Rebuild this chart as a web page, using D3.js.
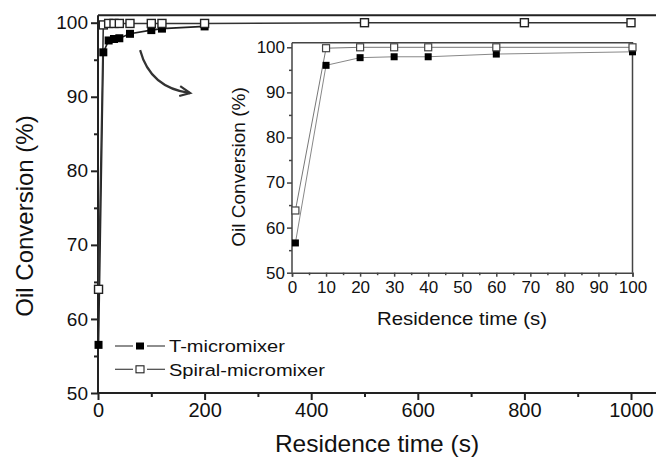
<!DOCTYPE html>
<html>
<head>
<meta charset="utf-8">
<script src="https://cdn.jsdelivr.net/npm/d3@7"></script>
<style>
  body { margin: 0; background: #fff; }
  svg { display: block; }
  svg text { font-family: "Liberation Sans", Arial, sans-serif; }
</style>
</head>
<body>
<svg id="chart" width="656" height="459"></svg>
<script>
// residence time (s) and oil conversion (%)
const tMain = [1, 10, 20, 30, 40, 60, 100, 120, 200]
const tMicroMain = [56.5, 96, 97.6, 97.8, 97.9, 98.5, 99.0, 99.2, 99.5]
const tSpiralMain = [1, 10, 20, 30, 40, 60, 100, 120, 200, 500, 800, 1000]
const spiralMain = [64, 99.7, 99.9, 99.9, 99.9, 99.9, 99.9, 99.9, 99.9, 100, 100, 100]

const tInset = [1, 10, 20, 30, 40, 60, 100]
const tMicroInset = [56.6, 96, 97.7, 97.9, 97.9, 98.5, 99.0]
const spiralInset = [63.8, 99.8, 100, 100, 100, 100, 100]

const mainXTicks = [0, 200, 400, 600, 800, 1000]
const mainYTicks = [50, 60, 70, 80, 90, 100]
const insetXTicks = [0, 10, 20, 30, 40, 50, 60, 70, 80, 90, 100]
const insetYTicks = [50, 60, 70, 80, 90, 100]

const seriesNames = ["T-micromixer", "Spiral-micromixer"]

const svg = d3.select("#chart")
const FONT = "Liberation Sans, Arial, sans-serif"

// ---- main plot
const x = d3.scaleLinear().domain([0, 1000]).range([98, 631])
const y = d3.scaleLinear().domain([50, 100]).range([393, 22.7])

const main = svg.append("g")

// frame top runs off the image
main.append("path")
  .attr("d", `M${x(0)},${y(101)}H${x(1060)}`)
  .attr("stroke", "#222").attr("stroke-width", 2).attr("fill", "none")

const xAxis = main.append("g")
  .attr("transform", `translate(0,${y(50)})`)
  .call(d3.axisBottom(x).tickValues(mainXTicks).tickSize(7).tickPadding(3).tickFormat(d3.format("d")))
main.append("g")
  .attr("transform", `translate(0,${y(50)})`)
  .call(d3.axisBottom(x).tickValues(d3.range(100, 1001, 200)).tickSize(4).tickFormat(""))
  .call(g => g.select(".domain").remove())
xAxis.select(".domain").attr("d", `M${x(0)},0H${x(1060)}`)

const yAxis = main.append("g")
  .attr("transform", `translate(${x(0)},0)`)
  .call(d3.axisLeft(y).tickValues(mainYTicks).tickSize(7).tickPadding(3))
  .call(g => g.select(".domain").attr("d", `M0,${y(50)}V${y(101)}`))
main.append("g")
  .attr("transform", `translate(${x(0)},0)`)
  .call(d3.axisLeft(y).tickValues(d3.range(55, 100, 10)).tickSize(4).tickFormat(""))
  .call(g => g.select(".domain").remove())

main.selectAll("g").attr("font-family", FONT)
main.selectAll(".domain, .tick line").attr("stroke", "#222").attr("stroke-width", 2)
main.selectAll(".tick text").attr("fill", "#111")
xAxis.selectAll(".tick text").attr("font-size", 20)
yAxis.selectAll(".tick text").attr("font-size", 19)

main.append("text")
  .attr("x", 377).attr("y", 452)
  .attr("text-anchor", "middle").attr("font-size", 24.5).attr("fill", "#111")
  .text("Residence time (s)")
main.append("text")
  .attr("transform", `translate(33,216) rotate(-90)`)
  .attr("text-anchor", "middle").attr("font-size", 24).attr("fill", "#111")
  .text("Oil Conversion (%)")

const lineMain = d3.line().x(d => x(d[0])).y(d => y(d[1]))
const tData = tMain.map((t, i) => [t, tMicroMain[i]])
const sData = tSpiralMain.map((t, i) => [t, spiralMain[i]])

main.append("path").datum(tData).attr("d", lineMain)
  .attr("fill", "none").attr("stroke", "#222").attr("stroke-width", 1.6)
main.append("path").datum(sData).attr("d", lineMain)
  .attr("fill", "none").attr("stroke", "#333").attr("stroke-width", 1.6)

main.selectAll("rect.tm").data(tData).enter().append("rect")
  .attr("class", "tm")
  .attr("x", d => x(d[0]) - 4).attr("y", d => y(d[1]) - 4)
  .attr("width", 8).attr("height", 8).attr("fill", "#000")
main.selectAll("rect.sp").data(sData).enter().append("rect")
  .attr("class", "sp")
  .attr("x", d => x(d[0]) - 4).attr("y", d => y(d[1]) - 4)
  .attr("width", 8).attr("height", 8)
  .attr("fill", "#fff").attr("stroke", "#222").attr("stroke-width", 1.4)

// legend
const legend = main.append("g")
seriesNames.forEach((name, i) => {
  const ly = 346 + i * 23.3
  legend.append("line").attr("x1", 115).attr("x2", 133).attr("y1", ly).attr("y2", ly)
    .attr("stroke", "#444").attr("stroke-width", 1.2)
  legend.append("line").attr("x1", 147).attr("x2", 165).attr("y1", ly).attr("y2", ly)
    .attr("stroke", "#444").attr("stroke-width", 1.2)
  legend.append("rect").attr("x", 136).attr("y", ly - 3.5).attr("width", 8).attr("height", 7)
    .attr("fill", i === 0 ? "#000" : "#fff").attr("stroke", i === 0 ? "none" : "#222")
    .attr("stroke-width", 1.1)
  legend.append("text")
    .attr("transform", `translate(169,${ly + 6.2}) scale(1.18,1)`)
    .attr("font-size", 17).attr("fill", "#111").text(name)
})

// curved arrow
const arrowPts = [[79, 96.3], [98, 91.2], [173, 90.5]]
main.append("path")
  .attr("d", `M${x(arrowPts[0][0])},${y(arrowPts[0][1])}Q${x(arrowPts[1][0])},${y(arrowPts[1][1])} ${x(arrowPts[2][0])},${y(arrowPts[2][1])}`)
  .attr("fill", "none").attr("stroke", "#333").attr("stroke-width", 2.2)
main.append("path")
  .attr("d", `M${x(arrowPts[2][0]) - 10},${y(arrowPts[2][1]) - 7}L${x(arrowPts[2][0])},${y(arrowPts[2][1])}L${x(arrowPts[2][0]) - 11},${y(arrowPts[2][1]) + 3}`)
  .attr("fill", "none").attr("stroke", "#333").attr("stroke-width", 2.2)

// ---- inset
const xi = d3.scaleLinear().domain([0, 100]).range([292, 632.5])
const yi = d3.scaleLinear().domain([50, 100]).range([272.7, 47.3])
const inset = svg.append("g")

inset.append("path")
  .attr("d", `M${xi(0)},${yi(101)}H${xi(100)}V${yi(50)}`)
  .attr("stroke", "#444").attr("stroke-width", 1.5).attr("fill", "none")

inset.append("g")
  .attr("transform", `translate(0,${yi(50)})`)
  .call(d3.axisBottom(xi).tickValues(insetXTicks).tickSize(4).tickPadding(4))
inset.append("g")
  .attr("transform", `translate(0,${yi(50)})`)
  .call(d3.axisBottom(xi).tickValues(d3.range(5, 100, 10)).tickSize(2.5).tickFormat(""))
  .call(g => g.select(".domain").remove())
inset.append("g")
  .attr("transform", `translate(${xi(0)},0)`)
  .call(d3.axisLeft(yi).tickValues(insetYTicks).tickSize(5).tickPadding(2))
  .call(g => g.select(".domain").attr("d", `M0,${yi(50)}V${yi(101)}`))
inset.append("g")
  .attr("transform", `translate(${xi(0)},0)`)
  .call(d3.axisLeft(yi).tickValues(d3.range(55, 100, 10)).tickSize(3).tickFormat(""))
  .call(g => g.select(".domain").remove())

inset.selectAll("g").attr("font-family", FONT)
inset.selectAll(".domain, .tick line").attr("stroke", "#444").attr("stroke-width", 1.5)
inset.selectAll(".tick text").attr("font-size", 17).attr("fill", "#111")

inset.append("text")
  .attr("x", 462).attr("y", 325)
  .attr("text-anchor", "middle").attr("font-size", 19).attr("fill", "#111")
  .attr("textLength", 170).attr("lengthAdjust", "spacingAndGlyphs")
  .text("Residence time (s)")
inset.append("text")
  .attr("transform", `translate(245,167) rotate(-90)`)
  .attr("text-anchor", "middle").attr("font-size", 19).attr("fill", "#111")
  .text("Oil Conversion (%)")

const lineInset = d3.line().x(d => xi(d[0])).y(d => yi(d[1]))
const tiData = tInset.map((t, i) => [t, tMicroInset[i]])
const siData = tInset.map((t, i) => [t, spiralInset[i]])

inset.append("path").datum(tiData).attr("d", lineInset)
  .attr("fill", "none").attr("stroke", "#888").attr("stroke-width", 1)
inset.append("path").datum(siData).attr("d", lineInset)
  .attr("fill", "none").attr("stroke", "#777").attr("stroke-width", 1)

inset.selectAll("rect.tm").data(tiData).enter().append("rect")
  .attr("class", "tm")
  .attr("x", d => xi(d[0]) - 3.5).attr("y", d => yi(d[1]) - 3.5)
  .attr("width", 7).attr("height", 7).attr("fill", "#000")
inset.selectAll("rect.sp").data(siData).enter().append("rect")
  .attr("class", "sp")
  .attr("x", d => xi(d[0]) - 3.5).attr("y", d => yi(d[1]) - 3.5)
  .attr("width", 7).attr("height", 7)
  .attr("fill", "#fff").attr("stroke", "#444").attr("stroke-width", 1.2)
</script>
</body>
</html>
